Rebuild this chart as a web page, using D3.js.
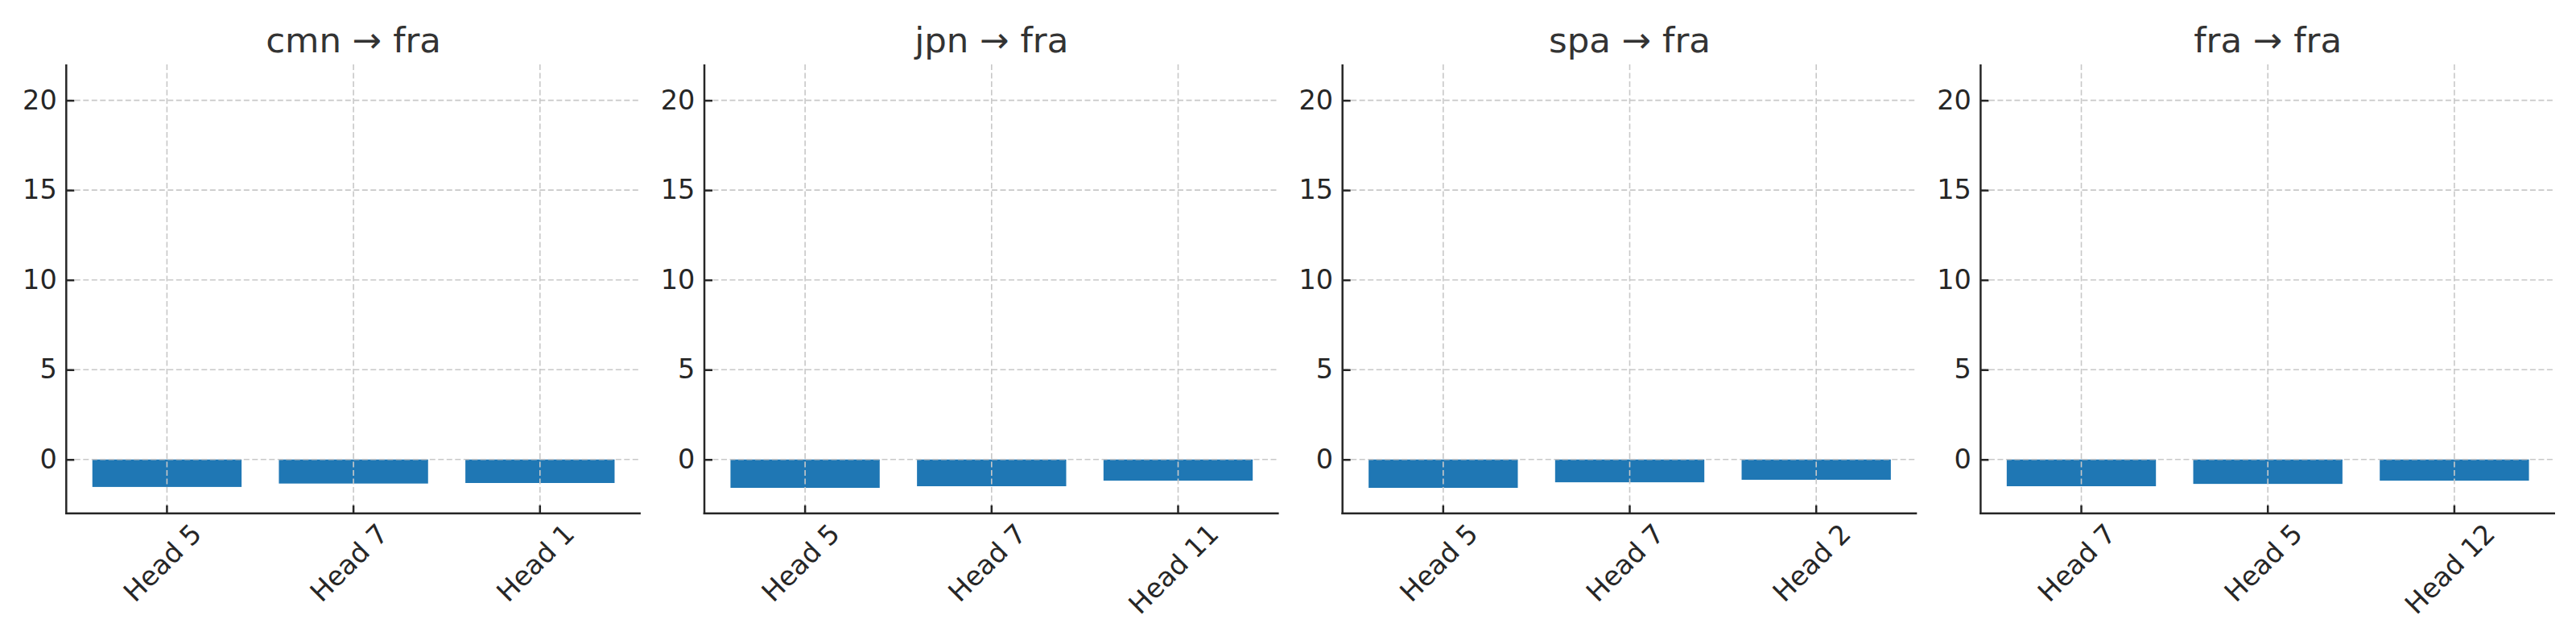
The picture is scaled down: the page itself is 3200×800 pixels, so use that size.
<!DOCTYPE html>
<html>
<head>
<meta charset="utf-8">
<script src="https://cdn.jsdelivr.net/npm/d3@7/dist/d3.min.js"></script>
<style>
  html, body { margin: 0; padding: 0; background: #fff; }
  svg { display: block; font-family: "DejaVu Sans", sans-serif; }
</style>
</head>
<body>
<svg id="chart" width="3200" height="800"></svg>
<script>
// ---- data ----
const titles = ["cmn → fra", "jpn → fra", "spa → fra", "fra → fra"];
const heads = [
  ["Head 5", "Head 7", "Head 1"],
  ["Head 5", "Head 7", "Head 11"],
  ["Head 5", "Head 7", "Head 2"],
  ["Head 7", "Head 5", "Head 12"]
];
const values = [
  [-1.53, -1.34, -1.31],
  [-1.58, -1.49, -1.18],
  [-1.58, -1.27, -1.13],
  [-1.49, -1.36, -1.18]
];
const yTicks = [0, 5, 10, 15, 20];
const yDomain = [-3, 22];

// ---- layout ----
const svg = d3.select("#chart");
const panelLeft0 = 82.3, panelPitch = 792.7, panelW = 713.6;
const plotTop = 80, plotBottom = 637.7;
const barColor = "#1f77b4";
const inkColor = "#262626";
const fontSize = 33.5;

titles.forEach((title, i) => {
  const left = panelLeft0 + i * panelPitch;
  const g = svg.append("g").attr("transform", `translate(${left},0)`);

  const x = d3.scaleBand().domain(heads[i]).range([0, panelW])
    .paddingInner(0.2).paddingOuter(0.14).align(0.5);
  const y = d3.scaleLinear().domain(yDomain).range([plotBottom, plotTop]);

  const data = heads[i].map((h, j) => ({ h, v: values[i][j] }));

  // bars
  g.selectAll("rect.bar").data(data).enter().append("rect")
    .attr("class", "bar")
    .attr("x", d => x(d.h))
    .attr("width", x.bandwidth())
    .attr("y", d => y(Math.max(0, d.v)))
    .attr("height", d => Math.abs(y(d.v) - y(0)))
    .attr("fill", barColor);

  // grid (drawn above bars, like matplotlib default)
  const grid = g.append("g").attr("stroke", "#c8c8c8").attr("stroke-width", 1.6)
    .attr("stroke-dasharray", "7,3.5").attr("fill", "none");
  yTicks.forEach(t => {
    grid.append("line").attr("x1", 0).attr("x2", panelW)
      .attr("y1", y(t)).attr("y2", y(t));
  });
  heads[i].forEach(h => {
    const cx = x(h) + x.bandwidth() / 2;
    grid.append("line").attr("x1", cx).attr("x2", cx)
      .attr("y1", plotTop).attr("y2", plotBottom);
  });

  // y axis
  const yAxis = d3.axisLeft(y).tickValues(yTicks).tickSize(-10).tickPadding(11.6)
    .tickFormat(d3.format("d"));
  const yg = g.append("g").call(yAxis);
  yg.select(".domain").remove();
  yg.selectAll(".tick line").attr("stroke", inkColor).attr("stroke-width", 2.5);
  yg.selectAll(".tick text").attr("fill", inkColor)
    .style("font-size", fontSize + "px").style("font-family", "DejaVu Sans");

  // x axis
  const xAxis = d3.axisBottom(x).tickSize(-10).tickPadding(0);
  const xg = g.append("g").attr("transform", `translate(0,${plotBottom})`).call(xAxis);
  xg.select(".domain").remove();
  xg.selectAll(".tick line").attr("stroke", inkColor).attr("stroke-width", 2.5);
  xg.selectAll(".tick text").each(function () {
    const t = d3.select(this);
    t.attr("fill", inkColor)
      .style("font-size", fontSize + "px").style("font-family", "DejaVu Sans")
      .attr("text-anchor", "middle").attr("dy", null).attr("y", null)
      .attr("dominant-baseline", "central");
    const w = this.getComputedTextLength();
    const h = fontSize * 1.16;
    const half = (w + h) * Math.SQRT1_2 / 2;
    const cy = 5.5 + half;
    t.attr("transform", `translate(-5.5,${cy}) rotate(-45)`);
  });

  // spines
  g.append("line").attr("x1", 0).attr("x2", 0).attr("y1", plotTop).attr("y2", plotBottom + 1.25)
    .attr("stroke", inkColor).attr("stroke-width", 2.5);
  g.append("line").attr("x1", -1.25).attr("x2", panelW).attr("y1", plotBottom).attr("y2", plotBottom)
    .attr("stroke", inkColor).attr("stroke-width", 2.5);

  // title
  g.append("text").attr("x", panelW / 2).attr("y", 65)
    .attr("text-anchor", "middle").attr("fill", "#333333")
    .style("font-size", "43.5px").style("font-family", "DejaVu Sans")
    .text(title);
});
</script>
</body>
</html>
